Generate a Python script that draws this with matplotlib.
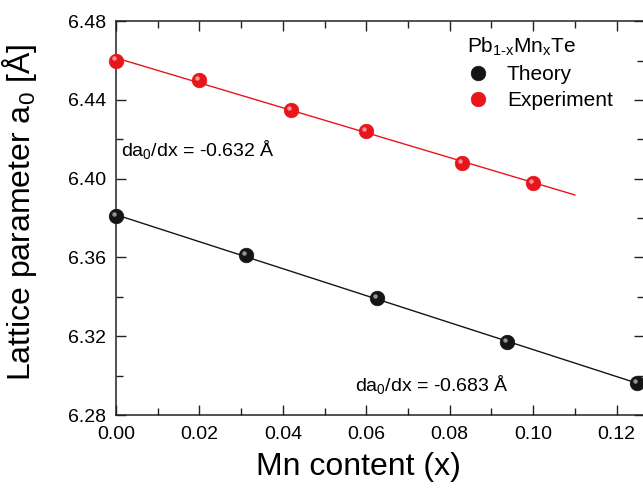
import numpy as np
import matplotlib
matplotlib.use("Agg")
import matplotlib.pyplot as plt
from matplotlib import transforms
from matplotlib.ticker import MultipleLocator, FormatStrFormatter

FONT = ['Liberation Sans', 'DejaVu Sans']
plt.rcParams['font.family'] = FONT
plt.rcParams['mathtext.fontset'] = 'custom'
plt.rcParams['mathtext.rm'] = 'Liberation Sans'
plt.rcParams['mathtext.it'] = 'Liberation Sans'

# Data
theory_x = [0.0, 0.03125, 0.0625, 0.09375, 0.125]
theory_y = [6.381, 6.361, 6.3395, 6.317, 6.296]
exp_x = [0.0, 0.02, 0.042, 0.06, 0.083, 0.10]
exp_y = [6.460, 6.450, 6.435, 6.424, 6.408, 6.398]
theory_fit_range = [0.0, 0.125]
exp_fit_range = [0.0, 0.11]
xticks = [0.00, 0.02, 0.04, 0.06, 0.08, 0.10, 0.12]
yticks = [6.28, 6.32, 6.36, 6.40, 6.44, 6.48]

RED = '#e8151b'
BLACK = '#151515'

fig = plt.figure(figsize=(6.43, 4.92), dpi=100)
ax = fig.add_axes([0.1804, 0.1565, 1.0 - 0.1804 + 0.001, 0.957 - 0.1565])

# Fit lines
for xs, ys, rng, c in [(theory_x, theory_y, theory_fit_range, BLACK),
                       (exp_x, exp_y, exp_fit_range, RED)]:
    p = np.polyfit(xs, ys, 1)
    xx = np.array(rng)
    ax.plot(xx, np.polyval(p, xx), color=c, lw=1.0, zorder=2)

def balls(xs, ys, color, label):
    h, = ax.plot(xs, ys, 'o', ms=10.5, color=color, mec=color, mew=0.5,
                 linestyle='none', zorder=3, label=label, clip_on=False)
    tr = transforms.offset_copy(ax.transData, fig=fig, x=-1.5, y=1.5, units='points')
    ax.plot(xs, ys, 'o', ms=3.2, color='white', alpha=0.55, mew=0,
            linestyle='none', zorder=4, transform=tr, clip_on=False)
    return h

h1 = balls(theory_x, theory_y, BLACK, 'Theory')
h2 = balls(exp_x, exp_y, RED, 'Experiment')

ax.set_xlim(0, 0.1265)
ax.set_ylim(6.28, 6.48)
ax.set_xticks(xticks)
ax.set_yticks(yticks)
ax.xaxis.set_major_formatter(FormatStrFormatter('%.2f'))
ax.yaxis.set_major_formatter(FormatStrFormatter('%.2f'))
ax.xaxis.set_minor_locator(MultipleLocator(0.01))
ax.yaxis.set_minor_locator(MultipleLocator(0.02))
ax.tick_params(which='both', direction='in', top=True, right=True,
               labelsize=14, width=1.0, color='#222222')
ax.tick_params(which='major', length=7)
ax.tick_params(which='minor', length=5)
ax.tick_params(axis='x', which='major', pad=8)
ax.tick_params(axis='y', which='major', pad=7)
for s in ax.spines.values():
    s.set_linewidth(1.1)
    s.set_color('#222222')

ax.set_xlabel('Mn content (x)', fontsize=23, va='center', ha='center')
ax.xaxis.set_label_coords(0.459, -0.132)
ax.set_ylabel('Lattice parameter a$_0$ [Å]', fontsize=23, va='center', ha='center')
ax.yaxis.set_label_coords(-0.182, 0.515)

ax.text(0.0012, 6.4149, 'da$_0$/dx = -0.632 Å', fontsize=14, va='center', ha='left')
ax.text(0.0572, 6.2953, 'da$_0$/dx = -0.683 Å', fontsize=14, va='center', ha='left')

leg = ax.legend(handles=[h1, h2], title='Pb$_{1\\text{-}\\mathrm{x}}$Mn$_\\mathrm{x}$Te',
                loc='upper left', bbox_to_anchor=(0.65, 0.985), frameon=False,
                fontsize=15, title_fontsize=15, handlelength=1.0,
                handletextpad=0.9, labelspacing=0.35, borderaxespad=0,
                alignment='left')

fig.savefig('out.png', dpi=100)
